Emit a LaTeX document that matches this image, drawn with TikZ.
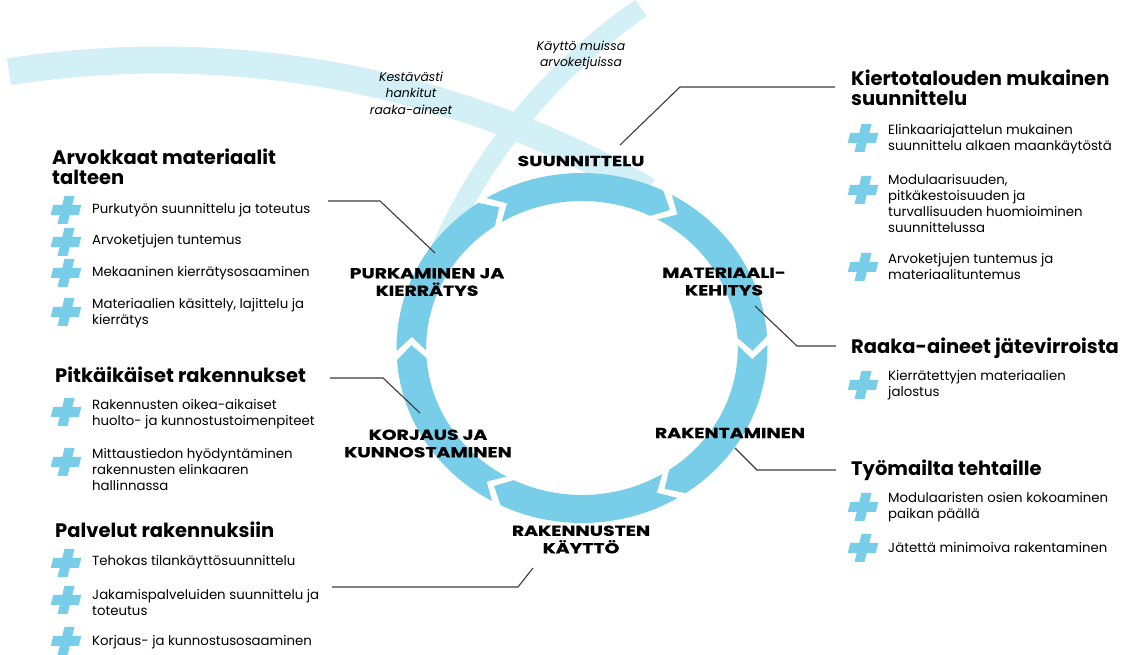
\documentclass[tikz,border=0pt]{standalone}
\usepackage{fontspec}
\setmainfont{Poppins}
\newfontfamily\raskas{Poppins}[FakeStretch=1.3,FakeBold=0.6]
\definecolor{kierto}{HTML}{78CDE9}
\definecolor{vaalea}{HTML}{D4F0F7}
\definecolor{viiva}{HTML}{3C3C3C}
\tikzset{otsikko/.style={anchor=west,align=left,inner sep=0,font=\bfseries\fontsize{19.5}{20}\selectfont}}
\tikzset{kohta/.style={anchor=west,align=left,inner sep=0,font=\fontsize{13.3}{16}\selectfont}}
\tikzset{vaihe/.style={align=center,inner sep=0,font=\raskas\bfseries\fontsize{14.5}{17.5}\selectfont}}
\tikzset{virta/.style={align=center,inner sep=0,font=\itshape\fontsize{12.4}{16.5}\selectfont}}
\tikzset{johdin/.style={draw=viiva,line width=1.1}}
\tikzset{risti/.pic={\fill[kierto,xslant=0.25] (-14,-5) rectangle (14,5) (-5,-14) rectangle (5,14);}}

\begin{document}
\begin{tikzpicture}[x=1pt,y=1pt]
      \pgfmathsetmacro{\ulko}{175}
      \pgfmathsetmacro{\sisa}{147}
      \pgfmathsetmacro{\keski}{161}
      \pgfmathsetmacro{\kar}{5}
      \pgfmathsetmacro{\rako}{3}
      \fill[white] (0,0) rectangle (1123,655);
      \useasboundingbox (0,0) rectangle (1123,655);

      % raaka-aine- ja arvoketjuvirrat
      \draw[vaalea,line width=27] (160,-381) ++(98.9:976) arc[start angle=98.9,end angle=60,radius=976];
      \draw[vaalea,line width=20] (966,174) ++(124.5:574) arc[start angle=124.5,end angle=156,radius=574];

      % kiertorengas
      \begin{scope}[shift={(582,307)},xscale=1.06]
        \foreach \g in {120,60,0,-60,-120,180} {
          \pgfmathsetmacro{\ta}{\g+\kar/2-\rako/2}
          \pgfmathsetmacro{\tb}{\ta-\kar}
          \pgfmathsetmacro{\ha}{\g-60+\kar/2+\rako/2}
          \pgfmathsetmacro{\hb}{\ha-\kar}
          \fill[kierto] (\ta:\ulko) arc[start angle=\ta,end angle=\ha,radius=\ulko]
            -- (\hb:\keski) -- (\ha:\sisa) arc[start angle=\ha,end angle=\ta,radius=\sisa]
            -- (\tb:\keski) -- cycle;
        }
      \end{scope}

      \node[virta] at (581,599.5) (muut) {Käyttö muissa\\arvoketjuissa};
      \node[virta] at (411,562) (raaka) {Kestävästi\\hankitut\\raaka-aineet};

      \node[vaihe] at (581,494) (suun) {SUUNNITTELU};
      \node[vaihe] at (724,373.5) (mate) {MATERIAALI-\\KEHITYS};
      \node[vaihe] at (730,222) (rake) {RAKENTAMINEN};
      \node[vaihe] at (581,115.5) (kayt) {RAKENNUSTEN\\KÄYTTÖ};
      \node[vaihe] at (428,211.5) (korj) {KORJAUS JA\\KUNNOSTAMINEN};
      \node[vaihe] at (427,373) (purk) {PURKAMINEN JA\\KIERRÄTYS};

      % vasen sarake
      \node[otsikko] at (52,488.5) (arvo) {Arvokkaat materiaalit\\talteen};
      \node[otsikko] at (55,280) (pitk) {Pitkäikäiset rakennukset};
      \node[otsikko] at (55,125) (palv) {Palvelut rakennuksiin};
      \foreach \y in {445,413,382,343,243,193,92,55,14}
        \pic at (66,\y) {risti};
      \node[kohta] at (92,445) (a1) {Purkutyön suunnittelu ja toteutus};
      \node[kohta] at (92,414) (a2) {Arvoketjujen tuntemus};
      \node[kohta] at (92,382) (a3) {Mekaaninen kierrätysosaaminen};
      \node[kohta] at (92,341.5) (a4) {Materiaalien käsittely, lajittelu ja\\kierrätys};
      \node[kohta] at (92,241) (p1) {Rakennusten oikea-aikaiset\\huolto- ja kunnostustoimenpiteet};
      \node[kohta] at (92,185) (p2) {Mittaustiedon hyödyntäminen\\rakennusten elinkaaren\\hallinnassa};
      \node[kohta] at (92,93) (v1) {Tehokas tilankäyttösuunnittelu};
      \node[kohta] at (92,53) (v2) {Jakamispalveluiden suunnittelu ja\\toteutus};
      \node[kohta] at (92,13) (v3) {Korjaus- ja kunnostusosaaminen};

      % oikea sarake
      \node[otsikko] at (851,567) (kier) {Kiertotalouden mukainen\\suunnittelu};
      \node[otsikko] at (851,307) (jate) {Raaka-aineet jätevirroista};
      \node[otsikko] at (851,185) (tyom) {Työmailta tehtaille};
      \foreach \y in {517,465,388,270,148,107}
        \pic at (863,\y) {risti};
      \node[kohta] at (888,516) (k1) {Elinkaariajattelun mukainen\\suunnittelu alkaen maankäytöstä};
      \node[kohta] at (888,451) (k2) {Modulaarisuuden,\\pitkäkestoisuuden ja\\turvallisuuden huomioiminen\\suunnittelussa};
      \node[kohta] at (888,388) (k3) {Arvoketjujen tuntemus ja\\materiaalituntemus};
      \node[kohta] at (888,270) (j1) {Kierrätettyjen materiaalien\\jalostus};
      \node[kohta] at (888,147.5) (t1) {Modulaaristen osien kokoaminen\\paikan päällä};
      \node[kohta] at (888,107) (t2) {Jätettä minimoiva rakentaminen};

      % johtimet
      \coordinate (suunA) at (620,510);
      \coordinate (suunB) at (680,568);
      \coordinate (kierA) at (835,568);
      \draw[johdin] (suunA) -- (suunB) -- (kierA);
      \coordinate (purkA) at (435,402);
      \coordinate (purkB) at (380,454);
      \coordinate (arvoA) at (328,454);
      \draw[johdin] (purkA) -- (purkB) -- (arvoA);
      \coordinate (mateA) at (755,349);
      \coordinate (mateB) at (797,309);
      \coordinate (jateA) at (836,309);
      \draw[johdin] (mateA) -- (mateB) -- (jateA);
      \coordinate (korjA) at (420,242);
      \coordinate (korjB) at (383,277);
      \coordinate (pitkA) at (330,277);
      \draw[johdin] (korjA) -- (korjB) -- (pitkA);
      \coordinate (rakeA) at (735,207);
      \coordinate (rakeB) at (757,185);
      \coordinate (tyomA) at (836,185);
      \draw[johdin] (rakeA) -- (rakeB) -- (tyomA);
      \coordinate (kaytA) at (533,87);
      \coordinate (kaytB) at (518,68);
      \coordinate (palvA) at (332,68);
      \draw[johdin] (kaytA) -- (kaytB) -- (palvA);
\end{tikzpicture}
\end{document}
